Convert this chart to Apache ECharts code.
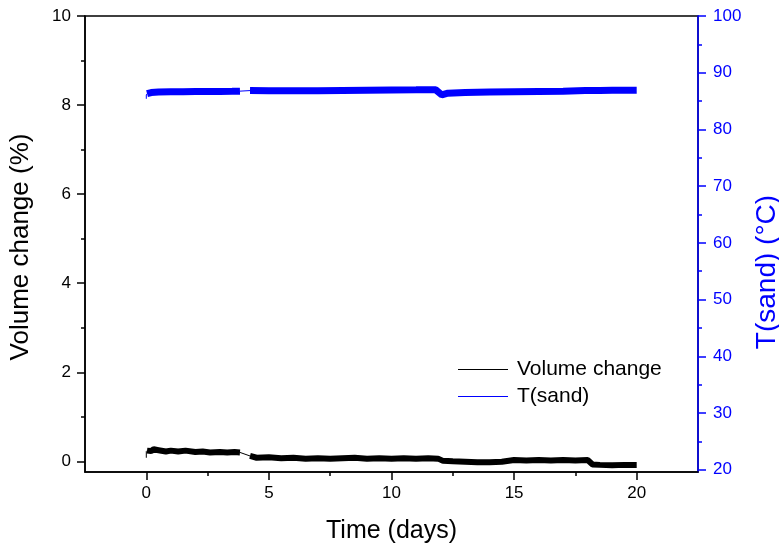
<!DOCTYPE html>
<html>
<head>
<meta charset="utf-8">
<script src="https://cdn.jsdelivr.net/npm/echarts@6/dist/echarts.min.js"></script>
<style>
  html, body { margin: 0; padding: 0; background: #fff; }
  #chart { width: 779px; height: 547px; }
</style>
</head>
<body>
<div id="chart"></div>
<script>
// volume change (%), band before the gap
const volTimeA = [0.03, 0.1, 0.2, 0.3, 0.5, 0.8, 1.0, 1.3, 1.6, 2.0, 2.3, 2.6, 3.0, 3.3, 3.6, 3.82];
const volA = [0.24, 0.27, 0.23, 0.27, 0.25, 0.22, 0.24, 0.22, 0.24, 0.21, 0.22, 0.2, 0.21, 0.2, 0.21, 0.2];
// volume change after the gap
const volTimeB = [4.23, 4.5, 5.0, 5.5, 6.0, 6.5, 7.0, 7.5, 8.0, 8.5, 9.0, 9.5, 10.0, 10.5, 11.0, 11.5, 11.9,
  12.1, 12.5, 13.0, 13.5, 14.0, 14.5, 15.0, 15.5, 16.0, 16.5, 17.0, 17.5, 18.0, 18.2, 18.5, 19.0, 19.5, 20.0];
const volB = [0.12, 0.08, 0.09, 0.07, 0.08, 0.06, 0.07, 0.06, 0.07, 0.08, 0.06, 0.07, 0.06, 0.07, 0.06, 0.07, 0.06,
  0.01, 0.0, -0.01, -0.02, -0.02, -0.01, 0.03, 0.02, 0.03, 0.02, 0.03, 0.02, 0.03, -0.07, -0.08, -0.09, -0.08, -0.08];
// thin pieces: start rise and the gap
const volStartTime = [0, 0, 0.03];
const volStart = [0.08, 0.22, 0.24];

// T(sand) in °C
const tTimeA = [0.03, 0.2, 0.5, 1.0, 1.5, 2.0, 2.5, 3.0, 3.5, 3.82];
const tA = [86.3, 86.5, 86.6, 86.65, 86.65, 86.7, 86.7, 86.7, 86.72, 86.75];
const tTimeB = [4.23, 5, 6, 7, 8, 9, 10, 11, 11.8, 11.88, 12.05, 12.3, 13, 14, 15, 16, 17, 17.9, 18.5, 19, 20];
const tB = [86.85, 86.82, 86.8, 86.82, 86.88, 86.92, 86.96, 86.98, 87.0, 87.08, 86.1, 86.4, 86.5, 86.6, 86.65, 86.7, 86.75, 86.85, 86.85, 86.9, 86.92];
const tStartTime = [0, 0, 0.03];
const tStart = [85.4, 86.1, 86.3];

const xLabels = [0, 5, 10, 15, 20];
const xMinor = [2.5, 7.5, 12.5, 17.5];
const leftLabels = [0, 2, 4, 6, 8, 10];
const leftMinor = [1, 3, 5, 7, 9];
const rightLabels = [20, 30, 40, 50, 60, 70, 80, 90, 100];
const rightMinor = [25, 35, 45, 55, 65, 75, 85, 95];

const zip = (xs, ys) => xs.map((x, i) => [x, ys[i]]);
const gapLine = (xs, ys, xs2, ys2) => [[xs[xs.length - 1], ys[ys.length - 1]], [xs2[0], ys2[0]]];

const FONT = 'Liberation Sans';
const BLUE = '#0000ff';

const chart = echarts.init(document.getElementById('chart'));

const minorX = {
  type: 'value', min: -2.5, max: 22.5, position: 'bottom',
  axisLine: { show: false, onZero: false },
  axisTick: { show: true, length: 4, customValues: xMinor, lineStyle: { color: '#000', width: 1.5 } },
  axisLabel: { show: false }, splitLine: { show: false }
};

function minorY(pos, min, max, vals, color) {
  return {
    type: 'value', min: min, max: max, position: pos,
    axisLine: { show: false, onZero: false },
    axisTick: { show: true, length: 4, customValues: vals, lineStyle: { color: color, width: 1.5 } },
    axisLabel: { show: false }, splitLine: { show: false }
  };
}

const option = {
  animation: false,
  backgroundColor: '#fff',
  grid: {
    left: 85, right: 81, top: 16, bottom: 75,
    outerBoundsMode: 'none', containLabel: false,
    show: true, borderColor: '#000', borderWidth: 1.5
  },
  legend: {
    left: 458, top: 359, orient: 'vertical', padding: 0,
    icon: 'rect', itemWidth: 50, itemHeight: 1, itemGap: 6,
    data: ['Volume change', 'T(sand)'],
    textStyle: { fontFamily: FONT, fontSize: 21, color: '#000', lineHeight: 21, padding: [0, 0, 0, 4] }
  },
  xAxis: [{
    type: 'value', min: -2.5, max: 22.5, position: 'bottom',
    name: 'Time (days)', nameLocation: 'middle', nameGap: 47,
    nameTextStyle: { fontFamily: FONT, fontSize: 25, color: '#000' },
    axisLine: { onZero: false, lineStyle: { color: '#000', width: 1.5 } },
    axisTick: { length: 8, customValues: xLabels, lineStyle: { color: '#000', width: 1.5 } },
    axisLabel: { customValues: xLabels, margin: 13, fontFamily: FONT, fontSize: 17, color: '#000' },
    splitLine: { show: false }
  }, Object.assign({}, minorX)],
  yAxis: [{
    type: 'value', min: -0.24, max: 10, position: 'left',
    name: 'Volume change (%)', nameLocation: 'middle', nameGap: 51, nameRotate: 90,
    nameTextStyle: { fontFamily: FONT, fontSize: 26, color: '#000', padding: [0, 6, 0, 0] },
    axisLine: { show: true, onZero: false, lineStyle: { color: '#000', width: 1.5 } },
    axisTick: { show: true, length: 8, customValues: leftLabels, lineStyle: { color: '#000', width: 1.5 } },
    axisLabel: { customValues: leftLabels, margin: 14, fontFamily: FONT, fontSize: 17, color: '#000' },
    splitLine: { show: false }
  }, {
    type: 'value', min: 19.6, max: 100, position: 'right',
    name: 'T(sand) (°C)', nameLocation: 'middle', nameGap: 55, nameRotate: 90,
    nameTextStyle: { fontFamily: FONT, fontSize: 28, color: BLUE, padding: [0, 56, 0, 0] },
    axisLine: { show: true, onZero: false, lineStyle: { color: BLUE, width: 1.5 } },
    axisTick: { show: true, length: 8, customValues: rightLabels, lineStyle: { color: BLUE, width: 1.5 } },
    axisLabel: { customValues: rightLabels, margin: 15, fontFamily: FONT, fontSize: 17, color: BLUE },
    splitLine: { show: false }
  },
  minorY('left', -0.24, 10, leftMinor, '#000'),
  minorY('right', 19.6, 100, rightMinor, BLUE)],
  series: [
    {
      name: 'Volume change', type: 'line', xAxisIndex: 0, yAxisIndex: 0, symbol: 'none',
      color: '#000', lineStyle: { width: 1 },
      data: volStartTime.map((t, i) => [t, volStart[i]]).concat([[null, null]])
        .concat(gapLine(volTimeA, volA, volTimeB, volB)),
      connectNulls: false
    },
    {
      name: 'Volume change', type: 'line', xAxisIndex: 0, yAxisIndex: 0, symbol: 'none',
      color: '#000', lineStyle: { width: 6 }, data: zip(volTimeA, volA)
    },
    {
      name: 'Volume change', type: 'line', xAxisIndex: 0, yAxisIndex: 0, symbol: 'none',
      color: '#000', lineStyle: { width: 6 }, data: zip(volTimeB, volB)
    },
    {
      name: 'T(sand)', type: 'line', xAxisIndex: 0, yAxisIndex: 1, symbol: 'none',
      color: BLUE, lineStyle: { width: 1 },
      data: tStartTime.map((t, i) => [t, tStart[i]]).concat([[null, null]])
        .concat(gapLine(tTimeA, tA, tTimeB, tB)),
      connectNulls: false
    },
    {
      name: 'T(sand)', type: 'line', xAxisIndex: 0, yAxisIndex: 1, symbol: 'none',
      color: BLUE, lineStyle: { width: 7 }, data: zip(tTimeA, tA)
    },
    {
      name: 'T(sand)', type: 'line', xAxisIndex: 0, yAxisIndex: 1, symbol: 'none',
      color: BLUE, lineStyle: { width: 7 }, data: zip(tTimeB, tB)
    }
  ]
};

chart.setOption(option);
</script>
</body>
</html>
